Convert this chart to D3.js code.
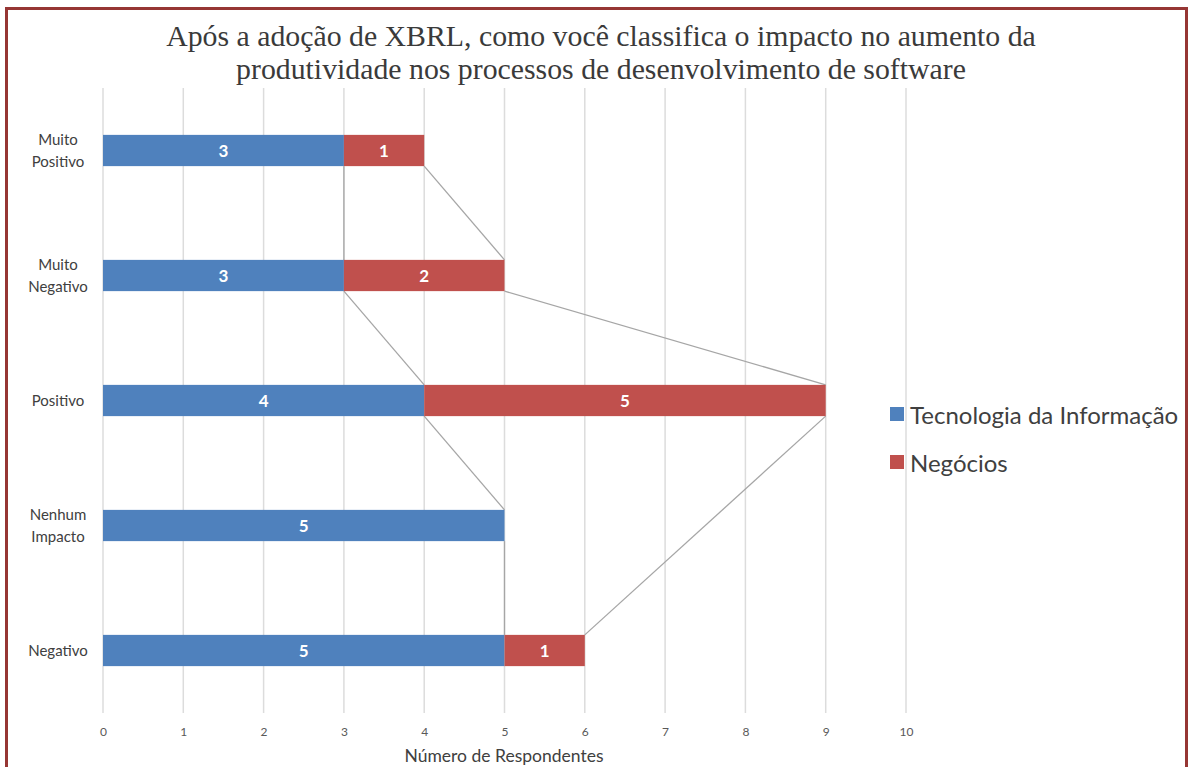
<!DOCTYPE html>
<html>
<head>
<meta charset="utf-8">
<script src="https://cdn.jsdelivr.net/npm/d3@7"></script>
<style>
  html, body { margin: 0; padding: 0; background: #fff; }
  svg { display: block; }
</style>
</head>
<body>
<svg id="chart" width="1190" height="767"></svg>
<script>
// Survey answers by impact category
const categories = [
  ["Muito", "Positivo"],
  ["Muito", "Negativo"],
  ["Positivo"],
  ["Nenhum", "Impacto"],
  ["Negativo"]
];
const seriesNames = ["Tecnologia da Informação", "Negócios"];
const tiValues = [3, 3, 4, 5, 5];
const negociosValues = [1, 2, 5, null, 1];
const xTicks = [0, 1, 2, 3, 4, 5, 6, 7, 8, 9, 10];
const titleLines = [
  "Após a adoção de XBRL, como você classifica o impacto no aumento da",
  "produtividade nos processos de desenvolvimento de software"
];
const xAxisTitle = "Número de Respondentes";

const colors = ["#4F81BD", "#C0504D"];
const sansFont = "Lato, 'Open Sans', sans-serif";
const svg = d3.select("#chart");

// Outer frame
svg.append("rect")
  .attr("x", 6.5).attr("y", 8.5)
  .attr("width", 1180).attr("height", 800)
  .attr("fill", "none").attr("stroke", "#963634").attr("stroke-width", 3);

// Title
svg.append("g").selectAll("text").data(titleLines).join("text")
  .attr("x", 601).attr("y", (d, i) => 46 + i * 33)
  .attr("text-anchor", "middle")
  .attr("font-family", "'Liberation Serif', 'DejaVu Serif', serif")
  .attr("font-size", 29.8)
  .attr("fill", "#3a3a3a")
  .text(d => d);

const x = d3.scaleLinear().domain([0, 10]).range([103, 906]);
const y = d3.scaleBand().domain(d3.range(categories.length)).range([88, 713]).paddingInner(0.75).paddingOuter(0.375);

// Vertical gridlines
svg.append("g").selectAll("line").data(xTicks).join("line")
  .attr("x1", d => x(d)).attr("x2", d => x(d))
  .attr("y1", 88).attr("y2", 713)
  .attr("stroke", "#dcdcdc").attr("stroke-width", 1.5);

// X axis tick labels
const xAxis = d3.axisBottom(x).tickValues(xTicks).tickSize(0).tickPadding(0);
const gx = svg.append("g").attr("transform", "translate(0,727)").call(xAxis);
gx.select(".domain").remove();
gx.selectAll("text")
  .attr("font-family", sansFont)
  .attr("font-size", 12)
  .attr("fill", "#595959");

svg.append("text")
  .attr("x", 504).attr("y", 762)
  .attr("text-anchor", "middle")
  .attr("font-family", sansFont)
  .attr("font-size", 17.5)
  .attr("fill", "#404040")
  .text(xAxisTitle);

// Category labels
const catG = svg.append("g").selectAll("text").data(categories).join("text")
  .attr("text-anchor", "middle")
  .attr("font-family", sansFont)
  .attr("font-size", 15)
  .attr("fill", "#404040");
catG.each(function(lines, i) {
  const cy = y(i) + y.bandwidth() / 2;
  const lh = 22;
  const start = cy - (lines.length - 1) * lh / 2 + 5;
  d3.select(this).selectAll("tspan").data(lines).join("tspan")
    .attr("x", 58)
    .attr("y", (d, j) => start + j * lh)
    .text(d => d);
});

// Stacked segments
const rows = categories.map((c, i) => ({ i, ti: tiValues[i], ng: negociosValues[i] }));
const segs = [];
rows.forEach(r => {
  segs.push({ i: r.i, s: 0, x0: 0, x1: r.ti, v: r.ti });
  if (r.ng != null) segs.push({ i: r.i, s: 1, x0: r.ti, x1: r.ti + r.ng, v: r.ng });
});

// Series lines joining the end of each segment across consecutive bars
const lineG = svg.append("g");
[0, 1].forEach(s => {
  const pts = rows.map(r => {
    if (s === 0) return { i: r.i, v: r.ti };
    return r.ng == null ? null : { i: r.i, v: r.ti + r.ng };
  }).filter(p => p);
  for (let k = 0; k < pts.length - 1; k++) {
    const a = pts[k], b = pts[k + 1];
    lineG.append("line")
      .attr("x1", x(a.v)).attr("y1", y(a.i) + y.bandwidth())
      .attr("x2", x(b.v)).attr("y2", y(b.i))
      .attr("stroke", "#a6a6a6").attr("stroke-width", 1.3);
  }
});

svg.append("g").selectAll("rect").data(segs).join("rect")
  .attr("x", d => x(d.x0))
  .attr("y", d => y(d.i))
  .attr("width", d => x(d.x1) - x(d.x0))
  .attr("height", y.bandwidth())
  .attr("fill", d => colors[d.s]);

svg.append("g").selectAll("text").data(segs).join("text")
  .attr("x", d => (x(d.x0) + x(d.x1)) / 2)
  .attr("y", d => y(d.i) + y.bandwidth() / 2 + 6)
  .attr("text-anchor", "middle")
  .attr("font-family", sansFont)
  .attr("font-weight", "bold")
  .attr("font-size", 17)
  .attr("fill", "#fff")
  .text(d => d.v);

// Legend
const leg = svg.append("g").selectAll("g").data(seriesNames).join("g")
  .attr("transform", (d, i) => `translate(890,${407 + i * 48})`);
leg.append("rect").attr("width", 14).attr("height", 14).attr("fill", (d, i) => colors[i]);
leg.append("text")
  .attr("x", 20).attr("y", 17)
  .attr("font-family", sansFont)
  .attr("font-size", 24)
  .attr("fill", "#404040")
  .text(d => d);
</script>
</body>
</html>
